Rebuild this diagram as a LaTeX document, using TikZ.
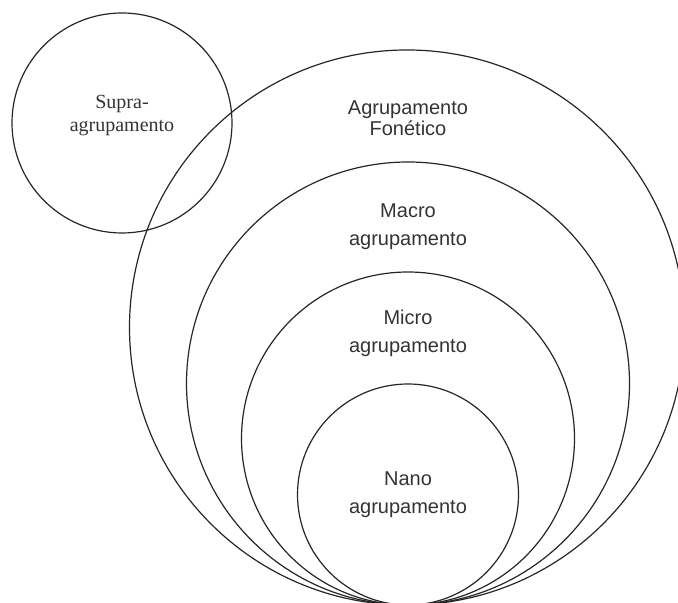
\documentclass[tikz,border=0pt]{standalone}
\usepackage{fontspec}
\setmainfont{Liberation Serif}
\newfontfamily\arialfont{Liberation Sans}
\usetikzlibrary{positioning}

\tikzset{
	ring/.style={circle, draw=black!85, line width=0.6pt, inner sep=0pt},
	sanslbl/.style={align=center, text=black!80, inner sep=0pt, font=\arialfont\fontsize{10}{14}\selectfont},
	seriflbl/.style={align=center, text=black!80, inner sep=0pt, font=\fontsize{10}{11.5}\selectfont}
}

\begin{document}
\begin{tikzpicture}
	\def\W{339pt}
	\def\H{301.5pt}
	\def\cx{204pt}

	\clip (0,0) rectangle (\W,\H);

	% circles, all touching at the bottom
	\node[ring, minimum size=277.5pt]	(fonetico)	at (203.5pt,137.75pt) {};
	\node[ring, minimum size=221.5pt]	(macro)		at (\cx,109.75pt) {};
	\node[ring, minimum size=166.5pt]	(micro)		at (\cx,82.25pt) {};
	\node[ring, minimum size=110.5pt]	(nano)		at (\cx,54.25pt) {};
	\node[ring, minimum size=110pt]		(supra)		at (61pt,240pt) {};

	% labels
	\node[sanslbl, font=\arialfont\fontsize{10}{10.5}\selectfont]	(fonlbl)	at ([yshift=-34.4pt]fonetico.north -| \cx,0) {Agrupamento\\Fonético};
	\node[sanslbl]	(macrolbl)	at ([yshift=-32.6pt]macro.north) {Macro\\agrupamento};
	\node[sanslbl]	(microlbl)	at ([yshift=-30.8pt]micro.north) {Micro\\agrupamento};
	\node[sanslbl]	(nanolbl)	at (nano.center) {Nano\\agrupamento};
	\node[seriflbl]	(supralbl)	at ([yshift=3.5pt]supra.center) {Supra-\\agrupamento};
\end{tikzpicture}
\end{document}
